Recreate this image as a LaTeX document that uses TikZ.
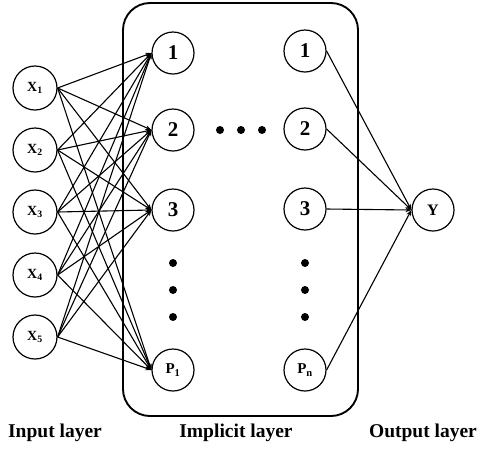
\documentclass[tikz,border=0pt]{standalone}
\usepackage{fontspec}
\setmainfont{Liberation Serif}
\usetikzlibrary{arrows.meta}
\begin{document}
\begin{tikzpicture}[x=1pt,y=-1pt,
  neuron/.style={circle,draw,line width=1.2pt,inner sep=0pt,minimum size=42pt,font=\bfseries\fontsize{21}{21}\selectfont},
  inneuron/.style={neuron,minimum size=44pt,font=\bfseries\fontsize{14}{14}\selectfont},
  small/.style={neuron,font=\bfseries\fontsize{15}{15}\selectfont},
  arr/.style={line width=1.1pt,-{Stealth[length=6pt,width=4.5pt]}},
  dot/.style={circle,fill,inner sep=0pt,minimum size=8pt},
  lab/.style={font=\bfseries\fontsize{19.5}{19.5}\selectfont,inner sep=0pt}]
\useasboundingbox (0,0) rectangle (484,448);
\draw[line width=1.9pt,rounded corners=27pt] (123,3) rectangle (358,416);
% input
\node[inneuron] (x1) at (35,88) {X\textsubscript{1}};
\node[inneuron] (x2) at (35,150) {X\textsubscript{2}};
\node[inneuron] (x3) at (35,212) {X\textsubscript{3}};
\node[inneuron] (x4) at (35,275) {X\textsubscript{4}};
\node[inneuron] (x5) at (35,337) {X\textsubscript{5}};
% hidden col 1
\node[neuron] (a1) at (173,53) {1};
\node[neuron] (a2) at (173,130) {2};
\node[neuron] (a3) at (173,210) {3};
\node[small] (ap) at (173,370) {P\textsubscript{1}};
% hidden col 2
\node[neuron] (b1) at (305,51) {1};
\node[neuron] (b2) at (305,129) {2};
\node[neuron] (b3) at (305,209) {3};
\node[small] (bp) at (305,370) {P\textsubscript{n}};
% output
\node[small,font=\bfseries\fontsize{16}{16}\selectfont] (y) at (433,210) {Y};
% dots
\node[dot] (d1) at (220,130) {};
\node[dot] (d2) at (241,130) {};
\node[dot] (d3) at (262,130) {};
\node[dot] (e1) at (173,263) {};
\node[dot] (e2) at (173,290) {};
\node[dot] (e3) at (173,317) {};
\node[dot] (f1) at (305,263) {};
\node[dot] (f2) at (305,290) {};
\node[dot] (f3) at (305,317) {};
% connections
\foreach \i in {x1,x2,x3,x4,x5}{
  \foreach \j in {a1,a2,a3,ap}{
    \draw[arr] (\i.east) -- (\j.west);
  }
}
\foreach \i in {b1,b2,b3,bp}{
  \draw[arr] (\i.east) -- (y.west);
}
% labels
\node[lab] (l1) at (55,433) {Input layer};
\node[lab] (l2) at (236,433) {Implicit layer};
\node[lab] (l3) at (423,433) {Output layer};
\end{tikzpicture}
\end{document}
